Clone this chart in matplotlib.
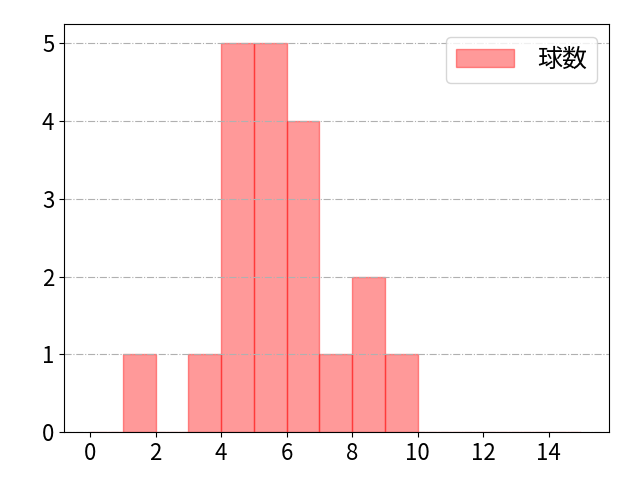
import numpy as np
import matplotlib
matplotlib.use('Agg')
import matplotlib.pyplot as plt

plt.rcParams['font.family'] = ['Noto Sans CJK JP', 'DejaVu Sans']

# histogram bins (width 1) and counts
bin_edges = list(range(0, 16))
counts = [0, 1, 0, 1, 5, 5, 4, 1, 2, 1, 0, 0, 0, 0, 0]
label = '球数'

fig = plt.figure(figsize=(6.4, 4.8), dpi=100)
ax = fig.add_subplot(111)
fig.subplots_adjust(left=0.1, right=0.952, bottom=0.1, top=0.95)

ax.hist(bin_edges[:-1], bins=bin_edges, weights=counts, color='red', alpha=0.4,
        edgecolor='red', linewidth=1.0, label=label)

ax.grid(axis='y', linestyle='-.', color='#b0b0b0', linewidth=0.8)
ax.set_xlim(-0.8, 15.85)
ax.set_ylim(0, 5.25)
ax.set_xticks([0, 2, 4, 6, 8, 10, 12, 14])
ax.set_yticks([0, 1, 2, 3, 4, 5])
ax.tick_params(labelsize=16)

ax.legend(loc='upper right', fontsize=18, handlelength=2.35, handletextpad=0.9)

plt.savefig('out.png', dpi=100)
